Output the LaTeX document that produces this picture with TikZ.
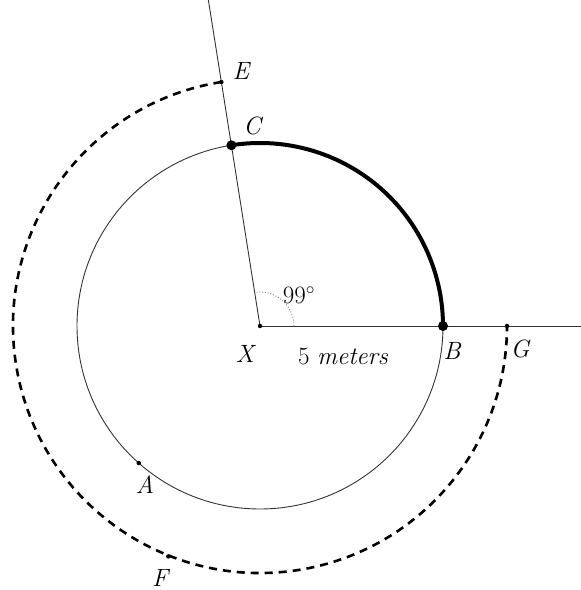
\documentclass[tikz,border=0pt]{standalone}
\usetikzlibrary{calc}
\begin{document}
\begin{tikzpicture}[x=1pt,y=1pt,
  lbl/.style={font=\fontsize{25}{28}\selectfont\itshape, inner sep=0pt},
  smalldot/.style={circle, fill=black, inner sep=0pt, minimum size=4.5pt},
  bigdot/.style={circle, fill=black, inner sep=0pt, minimum size=10pt},
  thin line/.style={line width=0.9pt, draw=black!80},
  dashcirc/.style={line width=2.6pt, dash pattern=on 8pt off 6pt},
  thickarc/.style={line width=4pt}]
\useasboundingbox (0,0) rectangle (581,590);
\coordinate (X) at (260,264);
% circle
\draw[thin line] (X) circle (183);
% rays
\coordinate (Rt) at (581,264);
\coordinate (Up) at ($(X)+(99:330)$);
\draw[thin line] (X) -- (Rt);
\draw[thin line] (X) -- (Up);
% angle mark
\draw[dotted, draw=black!60, line width=0.8pt] ($(X)+(0:34)$) arc[start angle=0, end angle=99, radius=34];
% thick arc C->B
\draw[thickarc] ($(X)+(99:183)$) arc[start angle=99, end angle=0, radius=183];
% dashed arc E->G
\draw[dashcirc] ($(X)+(99:247)$) arc[start angle=99, end angle=360, radius=247];
% points
\node[smalldot] (Xd) at (X) {};
\node[bigdot] (Cd) at ($(X)+(99:183)$) {};
\node[bigdot] (Bd) at ($(X)+(0:183)$) {};
\node[smalldot] (Ed) at ($(X)+(99:247)$) {};
\node[smalldot] (Gd) at ($(X)+(0:247)$) {};
\node[smalldot] (Ad) at ($(X)+(228.5:183)$) {};
\node[smalldot] (Fd) at ($(X)+(248.3:248)$) {};
% labels
\node[lbl] (Xl) at (245,236) {X};
\node[lbl] (ml) at (343,234) {\upshape 5 \itshape meters};
\node[lbl] (Bl) at (452,239) {B};
\node[lbl] (Gl) at (520,241) {G};
\node[lbl] (Cl) at (252,464) {C};
\node[lbl] (El) at (241,519) {E};
\node[lbl] (Al) at (145,105) {A};
\node[lbl] (Fl) at (160,12) {F};
\node[lbl, font=\fontsize{25}{28}\selectfont] (al) at (299,295) {99$^\circ$};
\end{tikzpicture}
\end{document}
